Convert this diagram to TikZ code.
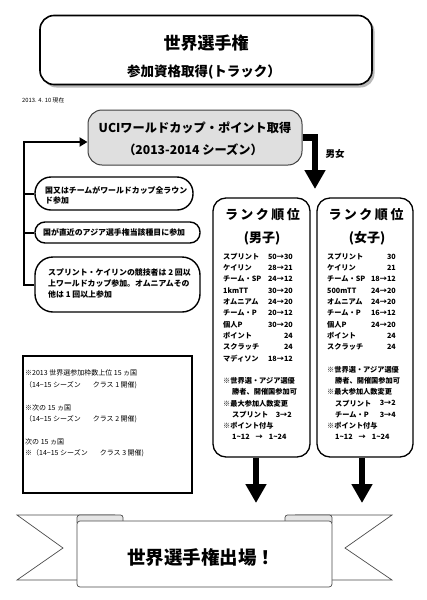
\documentclass[tikz,border=0pt]{standalone}
\usepackage{fontspec}
\newfontfamily\jpf{Noto Sans CJK JP}
\usetikzlibrary{arrows.meta}
\newcommand{\tld}{\char"007E\relax}
\tikzset{
  jp/.style={font=\jpf, inner sep=0pt},
  jpb/.style={font=\jpf\bfseries\fontsize{#1}{#1}\selectfont, inner sep=0pt},
  jpr/.style={font=\jpf\fontsize{#1}{#1}\selectfont, inner sep=0pt},
  lst/.style={jpb=7.2},
  box/.style={draw, line width=1.4pt, minimum width=#1, inner sep=0pt},
  bigarrow/.style={line width=6.5pt, -{Triangle[length=19pt,width=20pt]}},
  brk/.style={line width=2pt},
  ribbon/.style={draw=black!70, line width=0.7pt},
}
\begin{document}
\begin{tikzpicture}[x=1pt,y=-1pt]
\useasboundingbox (0,0) rectangle (426,600);
\fill[white] (0,0) rectangle (426,600);

% title
\fill[gray!55, rounded corners=14pt] (42.5,17.5) rectangle (374.5,87.5);
\node[box=332pt, minimum height=69pt, rounded corners=14pt, fill=white, line width=1.6pt] (title) at (206,50) {};
\node[jpb=17] (t1) at (206,43) {世界選手権};
\node[jpb=13.5] (t2) at (204,72) {参加資格取得(トラック）};
\node[jpr=5.8, anchor=west] (date) at (22,100) {2013. 4. 10 現在};

% UCI box
\node[draw=black!75, fill=gray!25, line width=1pt, rounded corners=14pt, minimum width=214pt, minimum height=55pt] (uci) at (195,137.5) {};
\node[jpb=12.2] (u1) at (195,128) {UCIワールドカップ・ポイント取得};
\node[jpb=12.2] (u2) at (193,150) {（2013-2014 シーズン）};

% left conditions
\node[box=158pt, minimum height=33pt, rounded corners=16pt] (b1) at (114,193.5) {};
\node[box=165pt, minimum height=21pt, rounded corners=10pt] (b2) at (117.5,232.5) {};
\node[box=165pt, minimum height=55pt, rounded corners=18pt] (b3) at (117.5,284.5) {};
\node[jpb=7.9, anchor=west] (b1a) at (45,190) {国又はチームがワールドカップ全ラウン};
\node[jpb=7.9, anchor=west] (b1b) at (45,200.5) {ド参加};
\node[jpb=7.9, anchor=west] (b2a) at (43,232) {国が直近のアジア選手権当該種目に参加};
\node[jpb=7.9, anchor=west] (b3a) at (48,272) {スプリント・ケイリンの競技者は 2 回以};
\node[jpb=7.9, anchor=west] (b3b) at (48,283) {上ワールドカップ参加。オムニアムその};
\node[jpb=7.9, anchor=west] (b3c) at (48,294) {他は 1 回以上参加};

\coordinate (bt) at (24,142);
\draw[brk, -{Triangle[length=8pt,width=9pt]}] (b3.west) -- (b3.west -| bt) -- (bt) -- (bt -| uci.west);
\draw[brk] (b1.west -| bt) -- (b1.west);
\draw[brk] (b2.west -| bt) -- (b2.west);

% men/women arrow
\coordinate (mf) at (315,189);
\draw[bigarrow] (uci.east) -| (mf);
\node[jpb=9.5] (mflab) at (335,154) {男女};

% rank boxes
\node[draw, line width=1.3pt, rounded corners=13pt, minimum width=97pt, minimum height=259pt] (rm) at (261.5,327.5) {};
\node[draw, line width=1.3pt, rounded corners=13pt, minimum width=96pt, minimum height=259pt] (rw) at (365,327.5) {};
\node[jpb=13] (rmh) at (262.5,215) {ラ\hspace{2.5pt}ン\hspace{2.5pt}ク\hspace{2.5pt}順\hspace{2.5pt}位};
\node[jpb=13] (rwh) at (366,215) {ラ\hspace{2.5pt}ン\hspace{2.5pt}ク\hspace{2.5pt}順\hspace{2.5pt}位};
\node[jpb=13] (rms) at (262,238) {(男子)};
\node[jpb=13] (rws) at (367,238) {(女子)};

\foreach \i/\a/\b in {0/スプリント/50→30, 1/ケイリン/28→21, 2/チーム・SP/24→12, 3/1kmTT/30→20, 4/オムニアム/24→20, 5/チーム・P/20→12, 6/個人P/30→20, 7/ポイント/24, 8/スクラッチ/24, 9/マディソン/18→12}{
  \node[lst, anchor=west] (ml\i) at (223,{256.7+11.3*\i}) {\a};
  \node[lst, anchor=east] (mr\i) at (293,{256.7+11.3*\i}) {\b};
}
\foreach \i/\a/\b in {0/スプリント/30, 1/ケイリン/21, 2/チーム・SP/18→12, 3/500mTT/24→20, 4/オムニアム/24→20, 5/チーム・P/16→12, 6/個人P/24→20, 7/ポイント/24, 8/スクラッチ/24}{
  \node[lst, anchor=west] (wl\i) at (327,{256.7+11.3*\i}) {\a};
  \node[lst, anchor=east] (wr\i) at (396,{256.7+11.3*\i}) {\b};
}
% men notes
\node[lst, anchor=west] (mn1) at (223,380.7) {※世界選・アジア選優};
\node[lst, anchor=west] (mn2) at (232,391.7) {勝者、開催国参加可};
\node[lst, anchor=west] (mn3) at (223,403.3) {※最大参加人数変更};
\node[lst, anchor=west] (mn4) at (232,415) {スプリント};
\node[lst, anchor=east] (mn4r) at (292,415) {3→2};
\node[lst, anchor=west] (mn5) at (223,426) {※ポイント付与};
\node[lst, anchor=west] (mn6) at (232,436.7) {1\tld12\hspace{6pt}→\hspace{6pt}1\tld24};
% women notes
\node[lst, anchor=west] (wn1) at (327,370) {※世界選・アジア選優};
\node[lst, anchor=west] (wn2) at (335,380.7) {勝者、開催国参加可};
\node[lst, anchor=west] (wn3) at (327,391.7) {※最大参加人数変更};
\node[lst, anchor=west] (wn4) at (335,403.3) {スプリント};
\node[lst, anchor=east] (wn4r) at (396,403.3) {3→2};
\node[lst, anchor=west] (wn5) at (335,415) {チーム・P};
\node[lst, anchor=east] (wn5r) at (396,415) {3→4};
\node[lst, anchor=west] (wn6) at (327,426) {※ポイント付与};
\node[lst, anchor=west] (wn7) at (335,436.7) {1\tld12\hspace{6pt}→\hspace{6pt}1\tld24};

% down arrows
\coordinate (dm) at (256,503);
\coordinate (dw) at (362,503);
\draw[bigarrow] (dm |- rm.south) -- (dm);
\draw[bigarrow] (dw |- rw.south) -- (dw);

% class box
\node[draw, line width=2pt, minimum width=169pt, minimum height=137pt] (cls) at (107.5,424.5) {};
\node[jpr=7, anchor=west] (c1) at (25,373) {※2013 世界選参加枠数上位 15 ヵ国};
\node[jpr=7, anchor=west] (c2) at (25,385) {（14−15 シーズン\hspace{12pt}クラス 1 開催)};
\node[jpr=7, anchor=west] (c3) at (25,408) {※次の 15 ヵ国};
\node[jpr=7, anchor=west] (c4) at (25,419) {（14−15 シーズン\hspace{12pt}クラス 2 開催)};
\node[jpr=7, anchor=west] (c5) at (25,442) {次の 15 ヵ国};
\node[jpr=7, anchor=west] (c6) at (25,453) {※（14−15 シーズン\hspace{12pt}クラス 3 開催)};

% ribbon banner
\draw[ribbon, fill=white] (115,515) -- (17,515) -- (63,548) -- (17,580) -- (90,580);
\draw[ribbon, fill=white] (295,515) -- (392,515) -- (345,548) -- (392,580) -- (320,580);
\draw[ribbon, fill=gray!20, rounded corners=2.5pt] (77,515) rectangle (123,525);
\draw[ribbon, fill=gray!20, rounded corners=2.5pt] (285,515) rectangle (332,525);
\draw[ribbon, fill=white, rounded corners=3pt] (77,521) rectangle (332,587);
\node[jpb=18.5] (banner) at (201,557) {世界選手権出場！};
\end{tikzpicture}
\end{document}
